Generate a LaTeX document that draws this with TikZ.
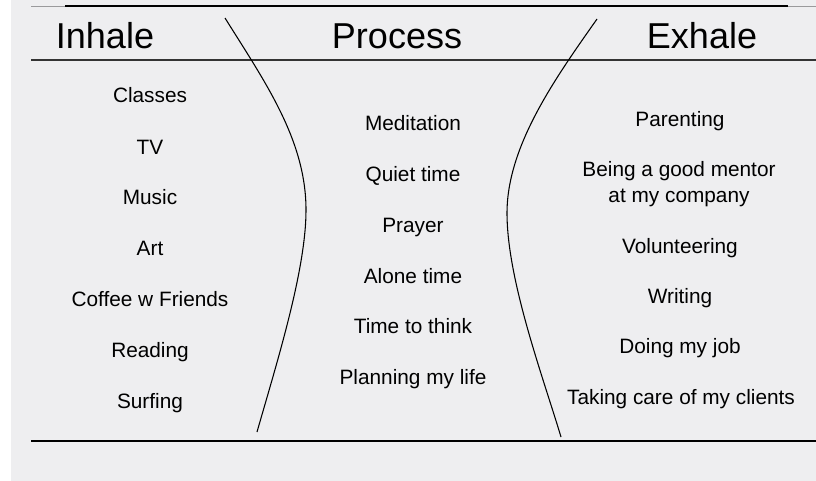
\documentclass[tikz,border=0pt]{standalone}
\usepackage{fontspec}
\setmainfont{Liberation Sans}
\usepackage{tikz}
\usepackage{xcolor}
\definecolor{pagecolor}{HTML}{EEEEF0}
\definecolor{rulegray}{HTML}{9A9A9C}
\colorlet{darkrule}{black!80}
\tikzstyle{heading} =[
    font=\fontsize{27}{30}\selectfont,
    anchor=base,
    inner sep=0pt
    ]
\tikzstyle{item} = [
    font=\fontsize{15.6}{19.5}\selectfont,
    anchor=base,
    align=center,
    inner sep=0pt
    ]
\tikzstyle{curve} = [
    draw=black,
    line width=0.8pt
    ]

\begin{document}
\begin{tikzpicture}[x=0.75pt, y=-0.75pt]
\useasboundingbox (0,0) rectangle (816,481);
\fill[white] (0,0) rectangle (816,481);
\fill[pagecolor] (11,0) rectangle (816,481);

% rules
\draw[rulegray, line width=0.8pt] (31,6.5) -- (816,6.5);
\draw[black, line width=1.5pt] (65,6.5) -- (788,6.5);
\draw[darkrule, line width=0.9pt] (31,60) -- (816,60);
\draw[black, line width=1.4pt] (31,441) -- (816,441);

% headings
\node[heading] (inhale) at (105,49) {Inhale};
\node[heading] (process) at (397,49) {Process};
\node[heading] (exhale) at (702,49) {Exhale};

% inhale
\node[item] (classes) at (150,103) {Classes};
\node[item] (tv) at (150,154) {TV};
\node[item] (music) at (150,204) {Music};
\node[item] (art) at (150,255) {Art};
\node[item] (coffee) at (150,306) {Coffee w Friends};
\node[item] (reading) at (150,357) {Reading};
\node[item] (surfing) at (150,408) {Surfing};

% process
\node[item] (meditation) at (413,131) {Meditation};
\node[item] (quiet) at (413,181.5) {Quiet time};
\node[item] (prayer) at (413,232) {Prayer};
\node[item] (alone) at (413,283) {Alone time};
\node[item] (think) at (413,333) {Time to think};
\node[item] (planning) at (413,384) {Planning my life};

% exhale
\node[item] (parenting) at (680,127) {Parenting};
\node[item] (mentor) at (679,202.5) {Being a good mentor\\at my company};
\node[item] (volunteer) at (680,253) {Volunteering};
\node[item] (writing) at (680,303) {Writing};
\node[item] (job) at (680,353) {Doing my job};
\node[item] (clients) at (681,404) {Taking care of my clients};

% dividing curves
\coordinate (lefttop) at (225,18);
\coordinate (leftmid) at (306,210);
\coordinate (leftend) at (257,432);
\coordinate (righttop) at (597,19);
\coordinate (rightmid) at (507,213);
\coordinate (rightend) at (561,437);
\draw[curve] (lefttop) .. controls (265,82) and (306,140) .. (leftmid)
    .. controls (306,270) and (277,362) .. (leftend);
\draw[curve] (righttop) .. controls (557,76) and (507,145) .. (rightmid)
    .. controls (507,280) and (543,377) .. (rightend);
\end{tikzpicture}
\end{document}
